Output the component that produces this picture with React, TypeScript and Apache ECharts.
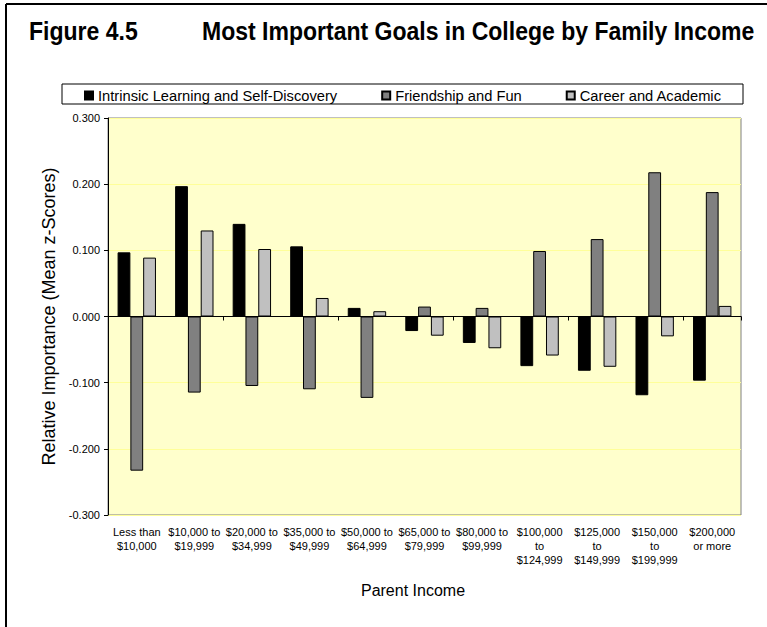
import React, { useEffect, useRef } from "react";
import * as echarts from "echarts";

const categories = [
  "Less than\n$10,000",
  "$10,000 to\n$19,999",
  "$20,000 to\n$34,999",
  "$35,000 to\n$49,999",
  "$50,000 to\n$64,999",
  "$65,000 to\n$79,999",
  "$80,000 to\n$99,999",
  "$100,000\nto\n$124,999",
  "$125,000\nto\n$149,999",
  "$150,000\nto\n$199,999",
  "$200,000\nor more",
];

const seriesNames = [
  "Intrinsic Learning and Self-Discovery",
  "Friendship and Fun",
  "Career and Academic",
];

const intrinsic = [0.097, 0.197, 0.14, 0.106, 0.013, -0.022, -0.04, -0.075, -0.082, -0.119, -0.097];
const friendship = [-0.233, -0.115, -0.105, -0.11, -0.123, 0.015, 0.013, 0.099, 0.117, 0.218, 0.188];
const career = [0.089, 0.13, 0.102, 0.028, 0.008, -0.029, -0.048, -0.059, -0.076, -0.03, 0.016];

const yMin = -0.3;
const yMax = 0.3;
const yInterval = 0.1;

const colors = ["#000000", "#808080", "#C0C0C0"];

const FONT = "'Liberation Sans', Arial, sans-serif";

export default function App() {
  const ref = useRef<HTMLDivElement>(null);

  useEffect(() => {
    if (!ref.current) return;
    const chart = echarts.init(ref.current, undefined, { renderer: "svg" });
    const values = [intrinsic, friendship, career];

    chart.setOption({
      animation: false,
      backgroundColor: "#ffffff",
      textStyle: { fontFamily: FONT },
      graphic: [
        { type: "line", z: 10, shape: { x1: 6, y1: 4, x2: 767, y2: 4 }, style: { stroke: "#000", lineWidth: 2 } },
        { type: "line", z: 10, shape: { x1: 6, y1: 4, x2: 6, y2: 627 }, style: { stroke: "#000", lineWidth: 2 } },
        {
          type: "text",
          x: 29,
          y: 31,
          scaleX: 0.885,
          style: { text: "Figure 4.5", font: `bold 26px ${FONT}`, fill: "#000", verticalAlign: "middle", align: "left" },
        },
        {
          type: "text",
          x: 202,
          y: 31,
          scaleX: 0.885,
          style: {
            text: "Most Important Goals in College by Family Income",
            font: `bold 26px ${FONT}`,
            fill: "#000",
            verticalAlign: "middle",
            align: "left",
          },
        },
        {
          type: "rect",
          z: -1,
          shape: { x: 62, y: 84, width: 681, height: 20 },
          style: { fill: "#fff", stroke: "#000", lineWidth: 1 },
        },
        {
          type: "text",
          x: 413,
          y: 590,
          style: { text: "Parent Income", font: `16px ${FONT}`, fill: "#000", align: "center", verticalAlign: "middle" },
        },
      ],
      legend: {
        left: 84,
        top: 88,
        itemWidth: 8,
        itemHeight: 8,
        itemGap: 44,
        icon: "rect",
        padding: 0,
        textStyle: { fontSize: 14.7, color: "#000", fontFamily: FONT },
        data: seriesNames,
      },
      grid: {
        left: 108,
        right: 26,
        top: 118,
        bottom: 112,
        show: true,
        backgroundColor: "#FFFFCC",
        borderColor: "#808080",
        borderWidth: 1,
      },
      xAxis: [
        {
          type: "category",
          data: categories,
          position: "bottom",
          axisLine: { onZero: true, lineStyle: { color: "#000", width: 1 } },
          axisTick: { show: true, length: 4, lineStyle: { color: "#000" } },
          axisLabel: { show: false },
        },
        {
          type: "category",
          data: categories,
          position: "bottom",
          axisLine: { show: false, onZero: false },
          axisTick: { show: false },
          axisLabel: {
            show: true,
            interval: 0,
            fontSize: 11,
            lineHeight: 14,
            color: "#000",
            margin: 10,
            fontFamily: FONT,
          },
        },
      ],
      yAxis: {
        type: "value",
        min: yMin,
        max: yMax,
        interval: yInterval,
        name: "Relative Importance (Mean z-Scores)",
        nameLocation: "middle",
        nameGap: 43,
        nameTextStyle: { fontSize: 18, color: "#000", fontFamily: FONT },
        axisLine: { show: true, lineStyle: { color: "#000" } },
        axisTick: { show: true, length: 4, lineStyle: { color: "#000" } },
        axisLabel: {
          fontSize: 11,
          color: "#000",
          margin: 8,
          fontFamily: FONT,
          formatter: (v: number) => v.toFixed(3),
        },
        splitLine: { show: true, lineStyle: { color: "#FFFF99", width: 1 } },
      },
      series: seriesNames.map((name, i) => ({
        name,
        type: "bar",
        xAxisIndex: 0,
        data: values[i],
        barGap: "0%",
        barCategoryGap: "33.3%",
        itemStyle: { color: colors[i], borderColor: "#000", borderWidth: 1 },
      })),
    });

    return () => chart.dispose();
  }, []);

  return (
    <div
      ref={ref}
      style={{ position: "fixed", left: 0, top: 0, width: 767, height: 627 }}
    />
  );
}
